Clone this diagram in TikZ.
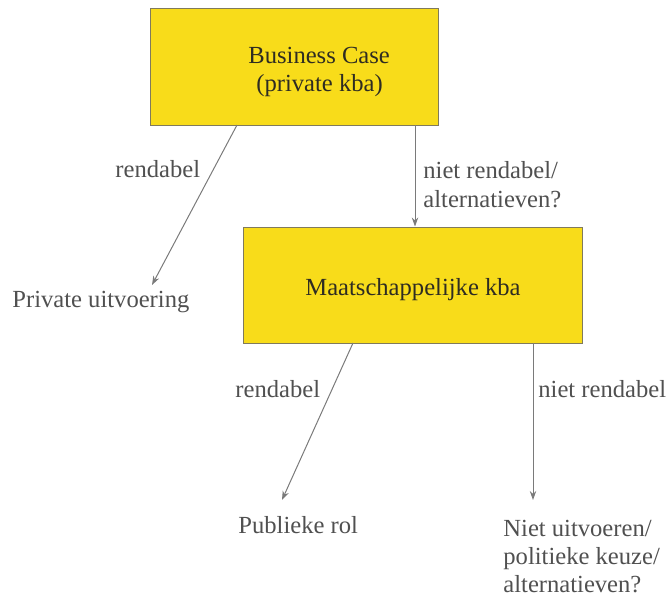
\documentclass[tikz,border=0pt]{standalone}
\usepackage{fontspec}
\setmainfont{Liberation Serif}
\usetikzlibrary{arrows.meta}
\definecolor{boxyellow}{HTML}{F8DC1A}
\definecolor{boxedge}{HTML}{807A5C}
\definecolor{boxtext}{HTML}{2E2C22}
\definecolor{labeltext}{HTML}{505050}
\definecolor{arrowcol}{HTML}{7A7A7A}
\tikzset{
  yellowbox/.style={draw=boxedge, fill=boxyellow, line width=0.5pt, inner sep=0pt},
  boxlabel/.style={text=boxtext, inner sep=0pt, anchor=base west, font=\fontsize{12.3}{13}\selectfont},
  plainlabel/.style={text=labeltext, inner sep=0pt, anchor=base west, font=\fontsize{12.3}{13}\selectfont},
  flow/.style={draw=arrowcol, line width=0.5pt, -{Stealth[length=4.5pt,width=3.2pt]}},
}
\begin{document}
\begin{tikzpicture}[x=0.5pt,y=-0.5pt]
\useasboundingbox (0,0) rectangle (671,596);
% boxes
\node[yellowbox, minimum width=144pt, minimum height=58.5pt] (b1) at (294,66.5) {};
\node[yellowbox, minimum width=169.5pt, minimum height=58pt] (b2) at (412.5,285) {};
% box texts
\node[boxlabel] (t1a) at (248,63) {Business Case};
\node[boxlabel] (t1b) at (256,91) {(private kba)};
\node[boxlabel] (t2) at (305,295) {Maatschappelijke kba};
% outer labels
\node[plainlabel] (r1) at (115,177) {rendabel};
\node[plainlabel] (n1a) at (423,178) {niet rendabel/};
\node[plainlabel] (n1b) at (423,207) {alternatieven?};
\node[plainlabel] (pu) at (12,307) {Private uitvoering};
\node[plainlabel] (r2) at (235,397) {rendabel};
\node[plainlabel] (n2) at (538,397) {niet rendabel};
\node[plainlabel] (pr) at (238,533) {Publieke rol};
\node[plainlabel] (nu1) at (503,536) {Niet uitvoeren/};
\node[plainlabel] (nu2) at (503,564) {politieke keuze/};
\node[plainlabel] (nu3) at (503,592) {alternatieven?};
% connector end points
\coordinate (s1) at (237,125);
\coordinate (e1) at (152,285);
\coordinate (s2) at (415,125);
\coordinate (s3) at (353,343);
\coordinate (e3) at (282,500);
\coordinate (s4) at (533,343);
\coordinate (e4) at (533,500);
% connectors
\draw[flow] (s1) -- (e1);
\draw[flow] (s2) -- (s2 |- b2.north);
\draw[flow] (s3) -- (e3);
\draw[flow] (s4) -- (e4);
\end{tikzpicture}
\end{document}
